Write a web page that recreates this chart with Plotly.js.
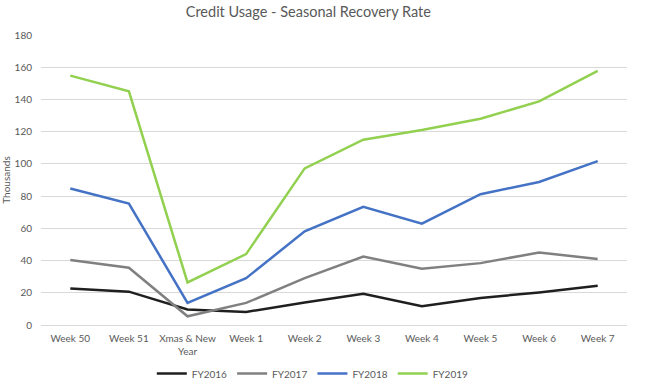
<!DOCTYPE html>
<html>
<head>
<meta charset="utf-8">
<script src="https://cdn.plot.ly/plotly-3.0.1.min.js"></script>
<style>html,body{margin:0;padding:0;background:#fff;}#chart{width:645px;height:382px;}</style>
</head>
<body>
<div id="chart"></div>
<script>
const categories = ["Week 50", "Week 51", "Xmas & New<br>Year", "Week 1", "Week 2", "Week 3", "Week 4", "Week 5", "Week 6", "Week 7"];
const seriesNames = ["FY2016", "FY2017", "FY2018", "FY2019"];
const fy2016 = [22.7, 20.7, 9.6, 8.1, 14.0, 19.4, 11.6, 16.8, 20.2, 24.4];
const fy2017 = [40.4, 35.5, 5.4, 13.7, 29.1, 42.5, 34.9, 38.4, 45.0, 41.0];
const fy2018 = [84.7, 75.4, 13.7, 29.1, 58.1, 73.4, 62.9, 81.2, 88.8, 101.7];
const fy2019 = [154.8, 145.0, 26.4, 44.0, 97.2, 115.0, 121.0, 128.0, 138.8, 157.7];
const yTicks = [0, 20, 40, 60, 80, 100, 120, 140, 160, 180];

const colors = ["#1f1f1f", "#808080", "#4472C4", "#92D050"];
const allSeries = [fy2016, fy2017, fy2018, fy2019];

const traces = allSeries.map((vals, i) => ({
  type: "scatter",
  mode: "lines",
  name: seriesNames[i],
  x: categories,
  y: vals,
  line: {color: colors[i], width: 2.5}
}));

const font = "Lato, 'Open Sans', sans-serif";
const layout = {
  width: 645,
  height: 382,
  margin: {l: 41, r: 18, t: 35, b: 56.5},
  paper_bgcolor: "#fff",
  plot_bgcolor: "#fff",
  font: {family: font, color: "#595959", size: 10},
  title: {text: "Credit Usage - Seasonal Recovery Rate", x: 0.478, xanchor: "center", y: 0.97, yanchor: "middle", font: {family: font, size: 14.5, color: "#595959"}},
  showlegend: true,
  legend: {orientation: "h", x: 0.485, xanchor: "center", xref: "container", y: 0.022, yanchor: "middle", yref: "container", font: {family: font, size: 10, color: "#595959"}, itemwidth: 30, traceorder: "normal"},
  xaxis: {
    type: "category",
    range: [-0.5, 9.5],
    automargin: false,
    showgrid: false,
    showline: true,
    linecolor: "#d9d9d9",
    linewidth: 1,
    ticks: "",
    ticklabelstandoff: 4,
    tickfont: {family: font, size: 10, color: "#595959"},
    fixedrange: true
  },
  yaxis: {
    range: [0, 180],
    automargin: false,
    tickvals: yTicks,
    ticktext: yTicks.map(String),
    showgrid: true,
    gridcolor: "#d9d9d9",
    gridwidth: 1,
    zeroline: false,
    showline: false,
    ticks: "",
    ticklabelstandoff: 8,
    tickfont: {family: font, size: 10, color: "#595959"},
    title: {text: "Thousands", font: {family: font, size: 10, color: "#595959"}, standoff: 6},
    fixedrange: true
  }
};

Plotly.newPlot("chart", traces, layout, {displayModeBar: false, staticPlot: true});
</script>
</body>
</html>
